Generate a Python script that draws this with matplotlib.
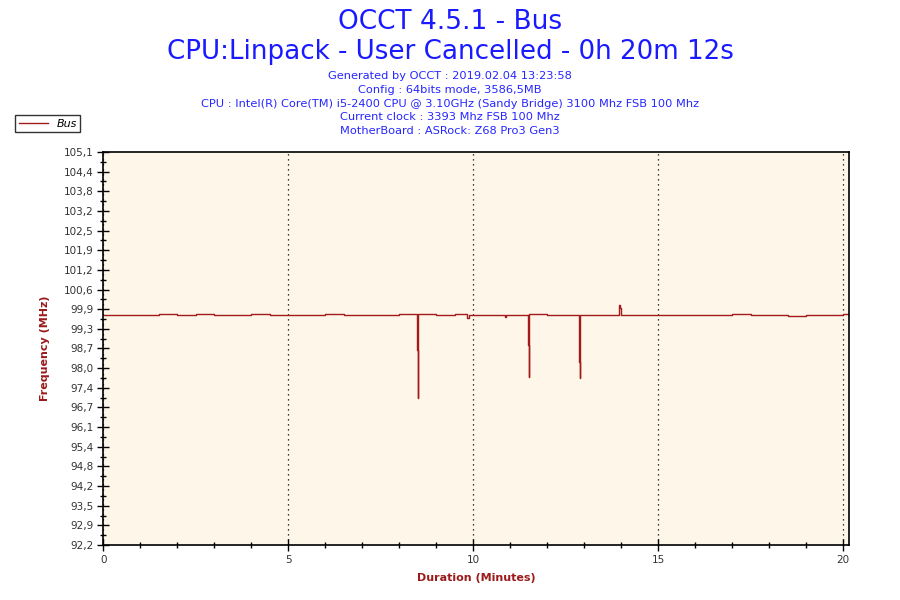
import numpy as np
import matplotlib.pyplot as plt
from matplotlib.ticker import MultipleLocator, FixedLocator

# bus clock samples (minutes, MHz), held until the next sample
minutes = [0.0, 0.5, 1.0, 1.5, 2.0, 2.5, 3.0, 3.5, 4.0, 4.5, 5.0, 5.5, 6.0, 6.5,
           7.0, 7.5, 8.0, 8.48, 8.50, 8.52, 9.0, 9.5, 9.84, 9.88, 10.5,
           10.86, 10.90, 11.48, 11.50, 11.52, 12.0, 12.5, 12.86, 12.88,
           12.90, 13.5, 13.95, 13.97, 13.99, 14.5, 15.0, 15.5,
           16.0, 16.5, 17.0, 17.5, 18.0, 18.5, 19.0, 19.5, 20.0, 20.17]
bus_mhz = [99.74, 99.76, 99.75, 99.77, 99.74, 99.78, 99.76, 99.75, 99.77, 99.74,
           99.76, 99.75, 99.77, 99.74, 99.76, 99.75, 99.77, 98.6, 97.03,
           99.78, 99.75, 99.77, 99.66, 99.76, 99.75, 99.68, 99.76, 98.75,
           97.7, 99.77, 99.75, 99.76, 98.2, 97.68, 99.76, 99.74,
           100.08, 99.98, 99.76, 99.75, 99.76, 99.74, 99.76, 99.75, 99.77, 99.74,
           99.76, 99.72, 99.75, 99.76, 99.77, 99.76]

y_min, y_max = 92.2, 105.1
y_labels = ['92,2', '92,9', '93,5', '94,2', '94,8', '95,4', '96,1', '96,7',
            '97,4', '98,0', '98,7', '99,3', '99,9', '100,6', '101,2', '101,9',
            '102,5', '103,2', '103,8', '104,4', '105,1']
x_labels = ['0', '5', '10', '15', '20']

title_lines = ['OCCT 4.5.1 - Bus', 'CPU:Linpack - User Cancelled - 0h 20m 12s']
info_lines = ['Generated by OCCT : 2019.02.04 13:23:58',
              'Config : 64bits mode, 3586,5MB',
              'CPU : Intel(R) Core(TM) i5-2400 CPU @ 3.10GHz (Sandy Bridge) 3100 Mhz FSB 100 Mhz',
              'Current clock : 3393 Mhz FSB 100 Mhz',
              'MotherBoard : ASRock: Z68 Pro3 Gen3']

line_col = '#a31a1a'
label_col = '#9b1b1b'
blue = '#1a1aff'

fig = plt.figure(figsize=(9, 6), dpi=100)
ax = fig.add_axes([0.1148, 0.0917, 0.8289, 0.655])
ax.set_facecolor('#fdf6e9')

ax.plot(minutes, bus_mhz, color=line_col, lw=1.0, drawstyle='steps-post', label='Bus')

ax.set_xlim(0, 20.17)
ax.set_ylim(y_min, y_max)

ax.xaxis.set_major_locator(FixedLocator([0, 5, 10, 15, 20]))
ax.set_xticklabels(x_labels)
ax.xaxis.set_minor_locator(MultipleLocator(1))
y_pos = np.linspace(y_min, y_max, len(y_labels))
ax.yaxis.set_major_locator(FixedLocator(y_pos))
ax.set_yticklabels(y_labels)
ax.yaxis.set_minor_locator(FixedLocator((y_pos[:-1] + y_pos[1:]) / 2))

ax.tick_params(which='major', direction='inout', length=8, width=1,
               labelsize=7.5, labelcolor='#333333', pad=3)
ax.tick_params(which='minor', direction='inout', length=4, width=1)
for s in ax.spines.values():
    s.set_linewidth(1.2)

ax.grid(axis='x', which='major', color='black', linestyle=(0, (1, 3)), lw=0.9)

ax.set_xlabel('Duration (Minutes)', color=label_col, fontweight='bold',
              fontsize=8, labelpad=6)
ax.set_ylabel('Frequency (MHz)', color=label_col, fontweight='bold',
              fontsize=8, labelpad=10)

fig.text(0.5, 0.964, title_lines[0], ha='center', va='center', color=blue, fontsize=19)
fig.text(0.5, 0.914, title_lines[1], ha='center', va='center', color=blue, fontsize=18.8)
for i, line in enumerate(info_lines):
    fig.text(0.5, 0.873 - i * 0.0228, line, ha='center', va='center',
             color='#2626ff', fontsize=8.2)

leg = fig.legend(loc='upper left', bbox_to_anchor=(0.017, 0.808), fontsize=8,
                 frameon=True, fancybox=False, edgecolor='black',
                 handlelength=2.6, borderpad=0.3, borderaxespad=0)
leg.get_frame().set_linewidth(1.0)
for t in leg.get_texts():
    t.set_fontstyle('italic')

plt.savefig('out.png', dpi=100)
